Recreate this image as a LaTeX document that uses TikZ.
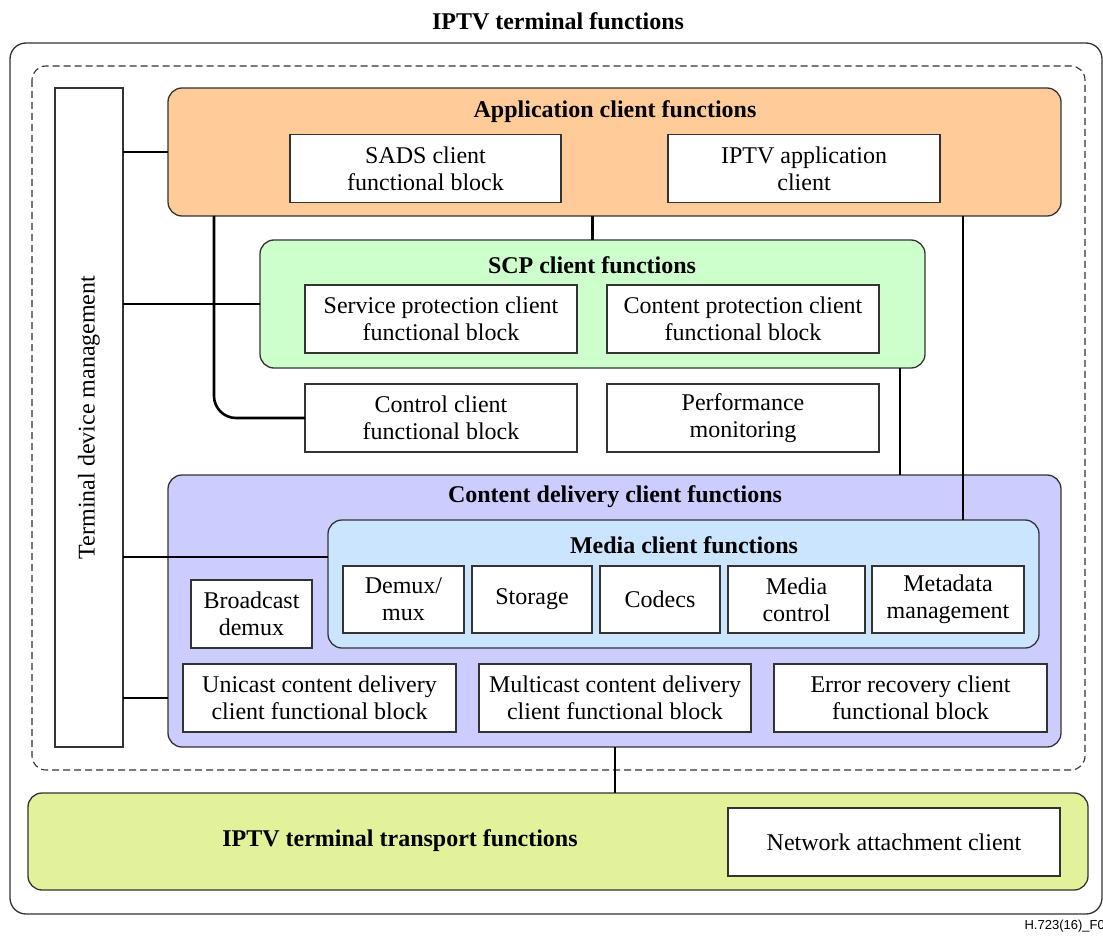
\documentclass[tikz,border=0pt]{standalone}
\usepackage{fontspec}
\setmainfont{Liberation Serif}
\setsansfont{Liberation Sans}
\usetikzlibrary{calc}
\definecolor{appc}{HTML}{FFCC99}
\definecolor{scpc}{HTML}{CCFFCC}
\definecolor{cdc}{HTML}{CCCCFF}
\definecolor{medc}{HTML}{CCE5FF}
\definecolor{trc}{HTML}{E1F29B}
\definecolor{edge}{HTML}{333333}
\begin{document}
\begin{tikzpicture}[x=1pt,y=-1pt,
  every node/.style={inner sep=0pt, outer sep=0pt},
  fbox/.style={draw=edge, line width=1.3pt, fill=white, align=center,
    font=\fontsize{24}{27}\selectfont},
  group/.style={draw=edge, line width=1.3pt, rounded corners=14pt},
  gtitle/.style={font=\fontsize{24}{27}\selectfont\bfseries},
  conn/.style={line width=2.6pt, black}]
\useasboundingbox (0,0) rectangle (1103,936);
\node[gtitle] (title) at (558,21) {IPTV terminal functions};
\draw[edge, line width=1.3pt, rounded corners=16pt] (10,43) rectangle (1102,914);
\draw[edge, line width=1.1pt, dashed, dash pattern=on 7pt off 4pt, rounded corners=14pt] (32,66) rectangle (1085,770);
% terminal device management
\node[fbox, minimum width=68pt, minimum height=659pt] (tdm) at (89,417.5) {};
\node[rotate=90, font=\fontsize{24}{27}\selectfont] (tdmt) at (89,417.5) {Terminal device management};
% application client
\node[group, fill=appc, minimum width=893pt, minimum height=128pt] (app) at (614.5,152) {};
\node[gtitle] (appt) at (615,112) {Application client functions};
\node[fbox, minimum width=271pt, minimum height=68pt] (sads) at (425.5,168.5) {SADS client\\functional block};
\node[fbox, minimum width=272pt, minimum height=68pt] (iptvapp) at (804,168.5) {IPTV application\\client};
% SCP client
\node[group, fill=scpc, minimum width=665pt, minimum height=128pt] (scp) at (592.5,304) {};
\node[gtitle] (scpt) at (592,265) {SCP client functions};
\node[fbox, minimum width=272pt, minimum height=68pt] (sp) at (441,319) {Service protection client\\functional block};
\node[fbox, minimum width=272pt, minimum height=68pt] (cp) at (743,319) {Content protection client\\functional block};
% control, performance
\node[fbox, minimum width=272pt, minimum height=68pt] (ctl) at (441,418) {Control client\\functional block};
\node[fbox, minimum width=272pt, minimum height=68pt] (perf) at (743,418) {Performance\\monitoring};
% content delivery
\node[group, fill=cdc, minimum width=893pt, minimum height=272pt] (cd) at (614.5,611) {};
\node[gtitle] (cdt) at (615,497) {Content delivery client functions};
\node[group, fill=medc, minimum width=711pt, minimum height=128pt] (media) at (683.5,584) {};
\node[gtitle] (mediat) at (684,545) {Media client functions};
\node[fbox, minimum width=121pt, minimum height=67pt] (demux) at (403.5,599.5) {Demux/\\mux};
\node[fbox, minimum width=120pt, minimum height=67pt] (storage) at (532,599.5) {Storage};
\node[fbox, minimum width=120pt, minimum height=67pt] (codecs) at (660,599.5) {Codecs};
\node[fbox, minimum width=137pt, minimum height=67pt] (mctl) at (796.5,599.5) {Media\\control};
\node[fbox, minimum width=152pt, minimum height=67pt] (meta) at (948,599.5) {Metadata\\management};
\node[fbox, minimum width=121pt, minimum height=68pt] (bdemux) at (251.5,614) {Broadcast\\demux};
\node[fbox, minimum width=273pt, minimum height=68pt] (uni) at (319.5,698) {Unicast content delivery\\client functional block};
\node[fbox, minimum width=272pt, minimum height=68pt] (multi) at (615,698) {Multicast content delivery\\client functional block};
\node[fbox, minimum width=273pt, minimum height=68pt] (err) at (910.5,698) {Error recovery client\\functional block};
% transport
\node[group, fill=trc, minimum width=1060pt, minimum height=97pt] (tr) at (558,841.5) {};
\node[gtitle] (trt) at (400,841) {IPTV terminal transport functions};
\node[fbox, minimum width=332pt, minimum height=68pt] (nac) at (894,842) {Network attachment client};
% footer
\node[anchor=east, font=\sffamily\fontsize{13}{15}\selectfont] (foot) at (1112,926) {H.723(16)\_F04};
% connectors
\draw[conn] (tdm.east |- app.west) -- (app.west);
\draw[conn] (tdm.east |- scp.west) -- (scp.west);
\draw[conn] (tdm.east |- 0,557) -- (media.west |- 0,557);
\draw[conn] (tdm.east |- uni.west) -- (cd.west |- uni.west);
\draw[conn] (app.south -| scp.north) -- (scp.north);
\draw[conn, rounded corners=22pt] (app.south -| 214,0) |- (ctl.west);
\draw[conn] (app.south -| 963,0) -- (media.north -| 963,0);
\draw[conn] (scp.south -| 900,0) -- (cd.north -| 900,0);
\draw[conn] (cd.south -| multi.south) -- (tr.north -| multi.south);
\end{tikzpicture}
\end{document}
